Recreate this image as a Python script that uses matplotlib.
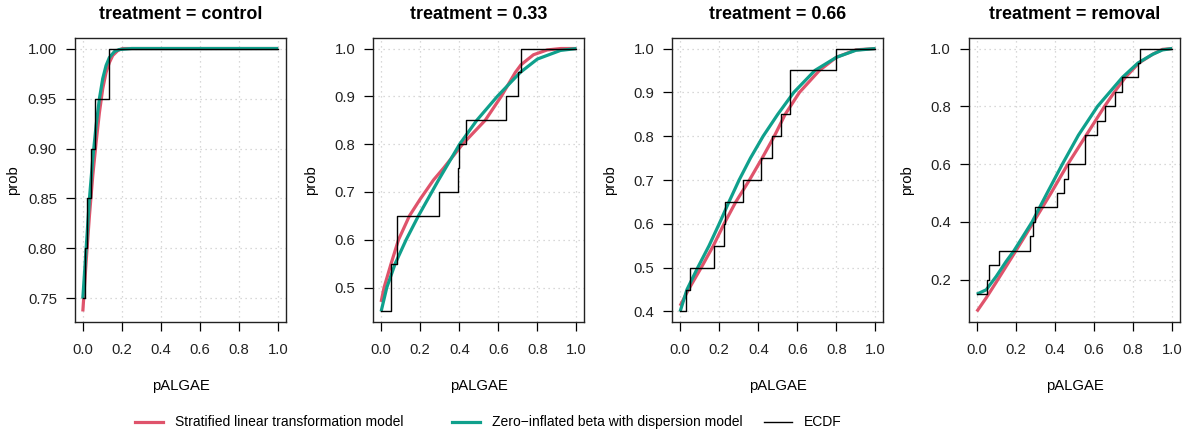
import matplotlib
matplotlib.use("Agg")
import matplotlib.pyplot as plt
from matplotlib.lines import Line2D

plt.rcParams.update({
    "font.family": ["Liberation Sans", "DejaVu Sans"],
    "font.size": 10.7,
})

RED = "#DF536B"
GREEN = "#0FA08C"

titles = ["treatment = control", "treatment = 0.33",
          "treatment = 0.66", "treatment = removal"]

# stratified linear transformation model
lt_x = [
    [0, 0.017, 0.034, 0.051, 0.068, 0.085, 0.102, 0.119, 0.136, 0.153, 0.179, 0.204, 0.3, 1.0],
    [0, 0.015, 0.051, 0.089, 0.145, 0.2, 0.268, 0.32, 0.417, 0.533, 0.615, 0.687, 0.716, 0.78, 0.85, 0.92, 1.0],
    [0, 0.043, 0.108, 0.17, 0.225, 0.285, 0.355, 0.42, 0.482, 0.538, 0.611, 0.713, 0.80, 0.9, 1.0],
    [0, 0.048, 0.099, 0.15, 0.2, 0.252, 0.303, 0.38, 0.466, 0.56, 0.654, 0.705, 0.76, 0.83, 0.9, 0.95, 1.0],
]
lt_p = [
    [0.737, 0.787, 0.833, 0.873, 0.906, 0.936, 0.960, 0.976, 0.986, 0.993, 0.998, 1.0, 1.0, 1.0],
    [0.47, 0.50, 0.55, 0.60, 0.65, 0.685, 0.725, 0.75, 0.80, 0.85, 0.90, 0.95, 0.966, 0.987, 0.997, 1.0, 1.0],
    [0.413, 0.45, 0.50, 0.55, 0.60, 0.65, 0.70, 0.75, 0.80, 0.85, 0.90, 0.95, 0.98, 0.997, 1.0],
    [0.090, 0.137, 0.191, 0.246, 0.30, 0.357, 0.414, 0.50, 0.60, 0.70, 0.80, 0.85, 0.90, 0.95, 0.98, 0.997, 1.0],
]

# zero-inflated beta with dispersion model
zib_x = [
    [0, 0.017, 0.034, 0.051, 0.068, 0.085, 0.102, 0.119, 0.136, 0.162, 0.187, 0.25, 1.0],
    [0, 0.029, 0.072, 0.128, 0.191, 0.294, 0.33, 0.402, 0.49, 0.595, 0.712, 0.8, 0.918, 1.0],
    [0, 0.035, 0.09, 0.148, 0.2, 0.25, 0.302, 0.36, 0.425, 0.5, 0.582, 0.69, 0.8, 0.9, 1.0],
    [0, 0.048, 0.099, 0.15, 0.19, 0.283, 0.36, 0.438, 0.52, 0.618, 0.745, 0.825, 0.9, 0.95, 1.0],
]
zib_p = [
    [0.75, 0.80, 0.85, 0.890, 0.923, 0.950, 0.970, 0.983, 0.991, 0.997, 0.999, 1.0, 1.0],
    [0.45, 0.50, 0.55, 0.60, 0.65, 0.725, 0.75, 0.80, 0.85, 0.90, 0.95, 0.978, 0.996, 1.0],
    [0.40, 0.45, 0.50, 0.55, 0.60, 0.65, 0.70, 0.75, 0.80, 0.85, 0.90, 0.95, 0.98, 0.996, 1.0],
    [0.15, 0.165, 0.211, 0.263, 0.30, 0.40, 0.50, 0.60, 0.70, 0.80, 0.90, 0.95, 0.98, 0.995, 1.0],
]

# ECDF jump locations and levels (first level held from 0)
ecdf_x = [
    [0, 0.012, 0.020, 0.042, 0.061, 0.133],
    [0, 0.051, 0.082, 0.294, 0.395, 0.400, 0.434, 0.638, 0.699, 0.716],
    [0, 0.032, 0.053, 0.172, 0.224, 0.232, 0.324, 0.416, 0.468, 0.517, 0.565, 0.799],
    [0, 0.051, 0.060, 0.113, 0.273, 0.290, 0.300, 0.410, 0.444, 0.466, 0.555,
     0.614, 0.657, 0.706, 0.742, 0.824, 0.836],
]
ecdf_p = [
    [0.75, 0.80, 0.85, 0.90, 0.95, 1.0],
    [0.45, 0.55, 0.65, 0.70, 0.75, 0.80, 0.85, 0.90, 0.95, 1.0],
    [0.40, 0.45, 0.50, 0.55, 0.60, 0.65, 0.70, 0.75, 0.80, 0.85, 0.95, 1.0],
    [0.15, 0.20, 0.25, 0.30, 0.35, 0.40, 0.45, 0.50, 0.55, 0.60, 0.70,
     0.75, 0.80, 0.85, 0.90, 0.95, 1.0],
]

yticks = [
    [0.75, 0.80, 0.85, 0.90, 0.95, 1.00],
    [0.5, 0.6, 0.7, 0.8, 0.9, 1.0],
    [0.4, 0.5, 0.6, 0.7, 0.8, 0.9, 1.0],
    [0.2, 0.4, 0.6, 0.8, 1.0],
]
ytick_fmt = ["%.2f", "%.1f", "%.1f", "%.1f"]
xticks = [0.0, 0.2, 0.4, 0.6, 0.8, 1.0]

W, H = 1188, 432
fig = plt.figure(figsize=(W / 100, H / 100), dpi=100)

lefts = [75, 373.3, 672.3, 969]
for i in range(4):
    ax = fig.add_axes([lefts[i] / W, 110 / H, 211 / W, 284 / H])

    ax.plot(lt_x[i], lt_p[i], color=RED, lw=2.3, zorder=3, solid_capstyle="butt")
    ax.plot(zib_x[i], zib_p[i], color=GREEN, lw=2.3, zorder=4, solid_capstyle="butt")
    ax.step(ecdf_x[i] + [1.0], ecdf_p[i] + [ecdf_p[i][-1]], where="post",
            color="black", lw=1.0, zorder=5)

    # R-style 4% range extension
    lo = min(lt_p[i] + zib_p[i] + ecdf_p[i])
    hi = max(lt_p[i] + zib_p[i] + ecdf_p[i])
    ext = 0.04 * (hi - lo)
    ax.set_ylim(lo - ext, hi + ext)
    ax.set_xlim(-0.04, 1.04)

    ax.set_xticks(xticks)
    ax.set_xticklabels(["%.1f" % v for v in xticks])
    ax.set_yticks(yticks[i])
    ax.set_yticklabels([ytick_fmt[i] % v for v in yticks[i]])
    ax.tick_params(direction="out", length=6.5, width=0.9,
                   colors="black", labelcolor="#222222")
    ax.tick_params(axis="x", pad=8.5)
    ax.tick_params(axis="y", pad=6.5)
    ax.grid(True, color="#cccccc", ls=(0, (1, 3)), lw=0.9)
    ax.set_axisbelow(True)
    for s in ax.spines.values():
        s.set_linewidth(1.0)
        s.set_color("#222222")

    ax.set_title(titles[i], fontsize=12.9, fontweight="bold", pad=14)
    ax.set_xlabel("pALGAE")
    ax.xaxis.set_label_coords(0.5, -0.2)
    ax.xaxis.label.set_va("top")
    ax.set_ylabel("prob")
    ax.yaxis.set_label_coords(-0.262, 0.5)

# legend drawn R-style with equal-width columns
leg_y = 1 - 422 / H
entries = [
    (135, RED, 2.3, "Stratified linear transformation model"),
    (452, GREEN, 2.3, "Zero\u2212inflated beta with dispersion model"),
    (764, "black", 1.0, "ECDF"),
]
for x0, col, lw, lab in entries:
    fig.add_artist(Line2D([x0 / W, (x0 + 28) / W], [leg_y, leg_y],
                          color=col, lw=lw, transform=fig.transFigure))
    fig.text((x0 + 40) / W, leg_y, lab, va="center", ha="left", fontsize=10)

fig.savefig("out.png", dpi=100)
